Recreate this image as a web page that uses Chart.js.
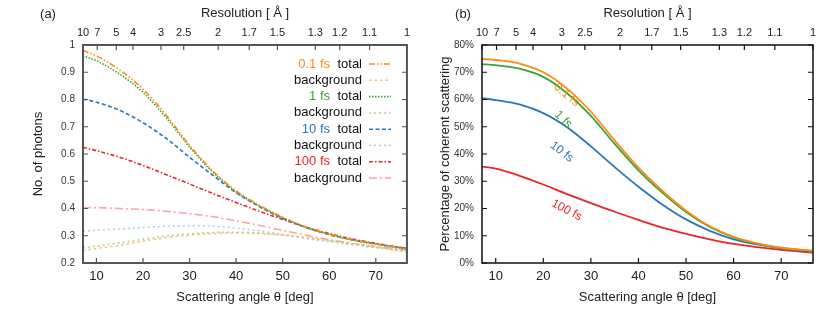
<!DOCTYPE html>
<html>
<head>
<meta charset="utf-8">
<script src="https://cdn.jsdelivr.net/npm/chart.js@4/dist/chart.umd.min.js"></script>
<style>
  html, body { margin: 0; padding: 0; background: #fff; }
  #wrap { position: relative; width: 830px; height: 310px; }
  canvas { position: absolute; top: 0; }
  #grafica-a { left: 0; }
  #grafica-b { left: 415px; }
</style>
</head>
<body>
<div id="wrap">
  <canvas id="grafica-a" width="415" height="310"></canvas>
  <canvas id="grafica-b" width="415" height="310"></canvas>
</div>
<script>
// scattering angle samples [deg]
const angles = [7.1, 10, 15, 20, 25, 30, 35, 40, 45, 50, 55, 60, 65, 70, 76.7];
// top axis: resolution [Å]
const resolutions = [10, 7, 5, 4, 3, 2.5, 2, 1.7, 1.5, 1.3, 1.2, 1.1, 1];
const pulses = ['0.1 fs', '1 fs', '10 fs', '100 fs'];

// (a) number of photons
const total01 = [0.980, 0.960, 0.908, 0.838, 0.742, 0.632, 0.538, 0.465, 0.412, 0.368, 0.332, 0.306, 0.285, 0.270, 0.252];
const backg01 = [0.247, 0.253, 0.265, 0.280, 0.293, 0.302, 0.308, 0.310, 0.308, 0.302, 0.293, 0.282, 0.270, 0.258, 0.240];
const total1 = [0.960, 0.942, 0.893, 0.826, 0.733, 0.626, 0.533, 0.461, 0.409, 0.366, 0.331, 0.305, 0.284, 0.269, 0.251];
const backg1 = [0.256, 0.262, 0.274, 0.287, 0.299, 0.307, 0.312, 0.313, 0.310, 0.303, 0.294, 0.283, 0.271, 0.259, 0.241];
const total10 = [0.802, 0.790, 0.760, 0.715, 0.657, 0.588, 0.522, 0.458, 0.407, 0.364, 0.330, 0.304, 0.285, 0.270, 0.254];
const backg10 = [0.316, 0.320, 0.325, 0.330, 0.335, 0.337, 0.335, 0.328, 0.318, 0.305, 0.290, 0.278, 0.266, 0.256, 0.245];
const total100 = [0.625, 0.612, 0.588, 0.558, 0.524, 0.490, 0.455, 0.422, 0.390, 0.360, 0.332, 0.308, 0.288, 0.272, 0.253];
const backg100 = [0.403, 0.403, 0.400, 0.396, 0.390, 0.381, 0.370, 0.355, 0.338, 0.320, 0.302, 0.286, 0.272, 0.261, 0.248];

// (b) percentage of coherent scattering
const coh01 = [74.9, 74.5, 73.2, 70.0, 64.0, 55.5, 45.0, 35.0, 26.5, 19.2, 13.5, 9.6, 7.2, 5.6, 4.5];
const coh1 = [73.0, 72.6, 71.3, 68.3, 62.3, 54.0, 43.7, 34.0, 25.8, 18.7, 13.2, 9.4, 7.0, 5.5, 4.4];
const coh10 = [60.5, 59.8, 58.2, 55.0, 49.8, 42.8, 35.2, 28.0, 21.5, 16.0, 11.8, 8.7, 6.8, 5.4, 4.2];
const coh100 = [35.4, 34.6, 32.0, 28.8, 25.3, 22.0, 18.8, 15.8, 13.0, 10.7, 8.7, 7.0, 5.8, 4.8, 3.8];

const WAVELENGTH = 1.2408; // Å, ~10 keV
const toAngle = d => 2 * Math.asin(WAVELENGTH / (2 * d)) * 180 / Math.PI;
const thetaMin = toAngle(resolutions[0]);
const thetaMax = toAngle(resolutions[resolutions.length - 1]);

const FONT = '"Liberation Sans", Arial, Helvetica, sans-serif';
Chart.defaults.font.family = FONT;
Chart.defaults.color = '#222';

const colores = ['#ff8a10', '#3ca33c', '#2878b8', '#e8252b'];
const coloresFondo = ['#ffbf6e', '#a3d98a', '#a9d0ea', '#ff9fa0'];
const dashTotal = [[6, 2, 1.5, 2, 1.5, 2], [1.5, 1.5], [4, 2.5], [4, 2, 1.5, 2]];
const dashFondo = [[2.5, 3], [2, 3], [2, 3], [8, 3, 2, 3]];

const puntos = serie => serie.map((v, i) => ({ x: angles[i], y: v }));

// inward ticks + closed frame, gnuplot style
function marco(color, ancho) {
    return {
        id: 'marco',
        afterDatasetsDraw(chart) {
            const { ctx, chartArea: { left, right, top, bottom }, scales } = chart;
            ctx.save();
            ctx.strokeStyle = color;
            ctx.lineWidth = ancho;
            ctx.strokeRect(left, top, right - left, bottom - top);
            ctx.lineWidth = 1.2;
            ctx.beginPath();
            scales.x.ticks.forEach(t => {
                const px = scales.x.getPixelForValue(t.value);
                ctx.moveTo(px, bottom); ctx.lineTo(px, bottom - 5);
            });
            scales.x2.ticks.forEach(t => {
                const px = scales.x2.getPixelForValue(t.value);
                ctx.moveTo(px, top); ctx.lineTo(px, top + 5);
            });
            scales.y.ticks.forEach(t => {
                const py = scales.y.getPixelForValue(t.value);
                ctx.moveTo(left, py); ctx.lineTo(left + 5, py);
                ctx.moveTo(right, py); ctx.lineTo(right - 5, py);
            });
            ctx.stroke();
            ctx.restore();
        }
    };
}

function etiquetaPanel(texto) {
    return {
        id: 'panel',
        afterDraw(chart) {
            const ctx = chart.ctx;
            ctx.save();
            ctx.font = '13px ' + FONT;
            ctx.fillStyle = '#222';
            ctx.textAlign = 'center';
            ctx.textBaseline = 'middle';
            ctx.fillText(texto, 48, 14);
            ctx.restore();
        }
    };
}

const leyenda = {
    id: 'leyenda',
    afterDraw(chart) {
        const ctx = chart.ctx;
        ctx.save();
        ctx.font = '13px ' + FONT;
        ctx.textBaseline = 'middle';
        chart.data.datasets.forEach((ds, i) => {
            const y = 64 + i * 16.3;
            ctx.textAlign = 'right';
            if (ds.tipo === 'total') {
                ctx.fillStyle = ds.borderColor;
                ctx.fillText(ds.pulso, 330, y);
            }
            ctx.fillStyle = '#111';
            ctx.fillText(ds.tipo, 362, y);
            ctx.strokeStyle = ds.borderColor;
            ctx.lineWidth = ds.borderWidth;
            ctx.setLineDash(ds.borderDash);
            ctx.beginPath();
            ctx.moveTo(369, y); ctx.lineTo(391, y);
            ctx.stroke();
            ctx.setLineDash([]);
        });
        ctx.restore();
    }
};

// rotated curve labels in panel (b), placed in data coordinates
const rotulos = [
    { x: 24.9, y: 61.7, angulo: 40 },
    { x: 24.2, y: 52.7, angulo: 45 },
    { x: 23.9, y: 40.8, angulo: 38 },
    { x: 24.9, y: 19.4, angulo: 28 }
];
const etiquetasCurvas = {
    id: 'etiquetasCurvas',
    afterDraw(chart) {
        const { ctx, scales } = chart;
        ctx.save();
        ctx.font = '12px ' + FONT;
        ctx.textAlign = 'center';
        ctx.textBaseline = 'middle';
        rotulos.forEach((r, i) => {
            ctx.save();
            ctx.translate(scales.x.getPixelForValue(r.x), scales.y.getPixelForValue(r.y));
            ctx.rotate(r.angulo * Math.PI / 180);
            ctx.fillStyle = colores[i];
            ctx.fillText(pulses[i], 0, 0);
            ctx.restore();
        });
        ctx.restore();
    }
};

function escalas(opts) {
    return {
        x: {
            type: 'linear', position: 'bottom', min: thetaMin, max: thetaMax,
            grid: { display: false, drawTicks: false }, border: { display: false },
            ticks: { stepSize: 10, includeBounds: false, maxRotation: 0, font: { size: 13 }, color: '#222', padding: 6 },
            title: { display: true, text: 'Scattering angle θ [deg]', font: { size: 13 }, color: '#222', padding: { top: 0, bottom: 5 } },
            afterFit: s => { s.height = 47; }
        },
        x2: {
            type: 'linear', position: 'top', min: thetaMin, max: thetaMax,
            grid: { display: false, drawTicks: false }, border: { display: false },
            afterBuildTicks: s => { s.ticks = resolutions.map(d => ({ value: toAngle(d) })); },
            ticks: { autoSkip: false, maxRotation: 0, font: { size: 11 }, color: '#222', padding: 5,
                     callback: (v, i) => String(resolutions[i]) },
            title: { display: true, text: 'Resolution [ Å ]', font: { size: 13 }, color: '#222', padding: { top: 5.5, bottom: 0 } },
            afterFit: s => { s.height = 45; }
        },
        y: {
            min: opts.min, max: opts.max,
            grid: { display: false, drawTicks: false }, border: { display: false },
            ticks: { stepSize: opts.step, font: { size: 10 }, color: '#333', padding: 8, callback: opts.formato },
            title: { display: true, text: opts.titulo, font: { size: 13 }, color: '#222', padding: { top: opts.tituloPad, bottom: 0 } },
            afterFit: s => { s.width = opts.ancho; }
        }
    };
}

const series = [total01, backg01, total1, backg1, total10, backg10, total100, backg100];
const datasetsA = series.map((serie, i) => {
    const p = Math.floor(i / 2);
    const esTotal = i % 2 === 0;
    return {
        pulso: pulses[p],
        tipo: esTotal ? 'total' : 'background',
        data: puntos(serie),
        borderColor: esTotal ? colores[p] : coloresFondo[p],
        borderDash: esTotal ? dashTotal[p] : dashFondo[p],
        borderWidth: esTotal ? 1.6 : 1.5,
        pointRadius: 0,
        cubicInterpolationMode: 'monotone',
        fill: false,
        order: esTotal ? 0 : 1 // backgrounds underneath
    };
});

new Chart(document.getElementById('grafica-a'), {
    type: 'line',
    data: { datasets: datasetsA },
    options: {
        responsive: false, animation: false, devicePixelRatio: 1,
        layout: { padding: { left: 0, right: 2, top: 0, bottom: 0 } },
        plugins: { legend: { display: false }, tooltip: { enabled: false } },
        scales: escalas({ min: 0.2, max: 1, step: 0.1, titulo: 'No. of photons', tituloPad: 31, ancho: 83,
                          formato: v => String(+v.toFixed(1)) })
    },
    plugins: [marco('#555', 2), leyenda, etiquetaPanel('(a)')]
});

const coherente = [coh01, coh1, coh10, coh100];
new Chart(document.getElementById('grafica-b'), {
    type: 'line',
    data: {
        datasets: coherente.map((serie, i) => ({
            label: pulses[i],
            data: puntos(serie),
            borderColor: colores[i],
            borderWidth: 1.8,
            pointRadius: 0,
            cubicInterpolationMode: 'monotone',
            fill: false
        }))
    },
    options: {
        responsive: false, animation: false, devicePixelRatio: 1,
        layout: { padding: { left: 0, right: 17, top: 0, bottom: 0 } },
        plugins: { legend: { display: false }, tooltip: { enabled: false } },
        scales: escalas({ min: 0, max: 80, step: 10, titulo: 'Percentage of coherent scattering', tituloPad: 22.5, ancho: 67,
                          formato: v => v + '%' })
    },
    plugins: [marco('#111', 1.5), etiquetasCurvas, etiquetaPanel('(b)')]
});
</script>
</body>
</html>
